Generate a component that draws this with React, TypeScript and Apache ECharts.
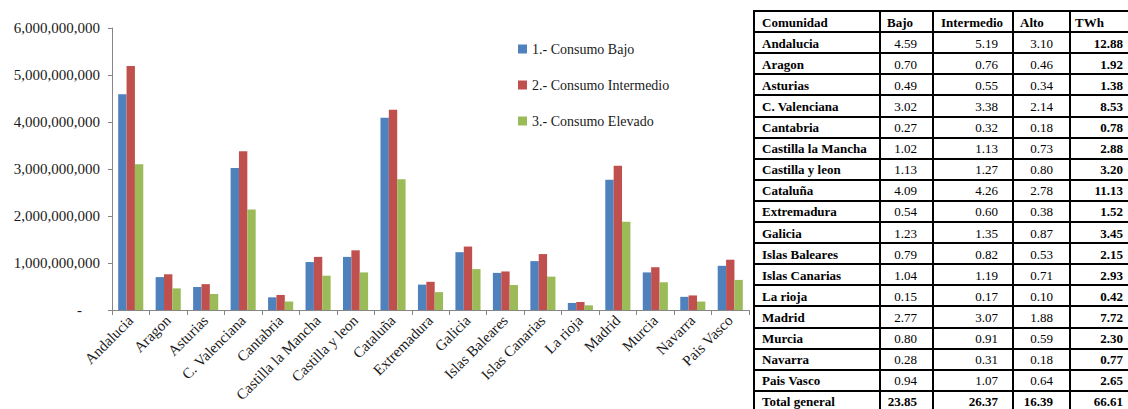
import React, { useEffect, useRef } from "react";
import * as echarts from "echarts";

const communities = [
  "Andalucia", "Aragon", "Asturias", "C. Valenciana", "Cantabria",
  "Castilla la Mancha", "Castilla y leon", "Cataluña", "Extremadura", "Galicia",
  "Islas Baleares", "Islas Canarias", "La rioja", "Madrid", "Murcia", "Navarra", "Pais Vasco",
];
// TWh values (x 1e9 kWh in chart)
const bajo = [4.59, 0.70, 0.49, 3.02, 0.27, 1.02, 1.13, 4.09, 0.54, 1.23, 0.79, 1.04, 0.15, 2.77, 0.80, 0.28, 0.94];
const intermedio = [5.19, 0.76, 0.55, 3.38, 0.32, 1.13, 1.27, 4.26, 0.60, 1.35, 0.82, 1.19, 0.17, 3.07, 0.91, 0.31, 1.07];
const alto = [3.10, 0.46, 0.34, 2.14, 0.18, 0.73, 0.80, 2.78, 0.38, 0.87, 0.53, 0.71, 0.10, 1.88, 0.59, 0.18, 0.64];
const twh = [12.88, 1.92, 1.38, 8.53, 0.78, 2.88, 3.20, 11.13, 1.52, 3.45, 2.15, 2.93, 0.42, 7.72, 2.30, 0.77, 2.65];
const totalLabel = "Total general";
const totals = [23.85, 26.37, 16.39, 66.61];
const seriesNames = ["1.- Consumo Bajo", "2.- Consumo Intermedio", "3.- Consumo Elevado"];
const tableHeaders = ["Comunidad", "Bajo", "Intermedio", "Alto", "TWh"];
const yTicks = { min: 0, max: 6000000000, interval: 1000000000 };

const FONT = '"Liberation Serif", "Times New Roman", serif';
const COLORS = ["#4F81BD", "#C0504D", "#9BBB59"];

function buildTable(): any[] {
  const els: any[] = [];
  const colX = [754, 880, 933, 1013, 1070, 1132];
  const top = 11;
  const rowH = 21.1;
  const nRows = communities.length + 2;
  const bottom = top + nRows * rowH;
  for (let i = 0; i <= nRows; i++) {
    const y = Math.round(top + i * rowH);
    els.push({
      type: "line",
      shape: { x1: colX[0] - 1, y1: y, x2: colX[5], y2: y },
      style: { stroke: "#000", lineWidth: 2 },
    });
  }
  colX.forEach((x) => {
    els.push({
      type: "line",
      shape: { x1: x, y1: top - 1, x2: x, y2: bottom },
      style: { stroke: "#000", lineWidth: 2 },
    });
  });
  const textEl = (text: string, x: number, y: number, align: string, bold: boolean) => ({
    type: "text",
    x,
    y,
    style: {
      text,
      fontSize: 13,
      fontFamily: FONT,
      fontWeight: bold ? "bold" : "normal",
      fill: "#000",
      align,
      textAlign: align,
      verticalAlign: "middle",
      textVerticalAlign: "middle",
    },
  });
  const headerX = [762, 887, 941, 1020, 1075];
  const valueRight = [917, 998, 1053, 1123];
  const rowCenter = (i: number) => top + i * rowH + rowH / 2 + 0.5;
  tableHeaders.forEach((h, j) => els.push(textEl(h, headerX[j], rowCenter(0), "left", true)));
  communities.forEach((c, i) => {
    const y = rowCenter(i + 1);
    els.push(textEl(c, headerX[0], y, "left", true));
    [bajo[i], intermedio[i], alto[i]].forEach((v, j) =>
      els.push(textEl(v.toFixed(2), valueRight[j], y, "right", false))
    );
    els.push(textEl(twh[i].toFixed(2), valueRight[3], y, "right", true));
  });
  const ty = rowCenter(communities.length + 1);
  els.push(textEl(totalLabel, headerX[0], ty, "left", true));
  totals.forEach((v, j) => els.push(textEl(v.toFixed(2), valueRight[j], ty, "right", true)));
  return els;
}

export default function App() {
  const ref = useRef<HTMLDivElement>(null);
  useEffect(() => {
    if (!ref.current) return;
    const chart = echarts.init(ref.current, undefined, { renderer: "svg" });
    const toVal = (arr: number[]) => arr.map((v) => Math.round(v * 1e9));
    chart.setOption({
      animation: false,
      backgroundColor: "#fff",
      textStyle: { fontFamily: FONT },
      legend: {
        orient: "vertical",
        left: 513,
        top: 37,
        itemWidth: 9,
        itemHeight: 9,
        itemGap: 22,
        icon: "rect",
        textStyle: { fontFamily: FONT, fontSize: 14, color: "#1a1a1a" },
        data: seriesNames,
      },
      grid: { left: 112, top: 28, width: 637, height: 282, containLabel: false },
      xAxis: {
        type: "category",
        data: communities,
        boundaryGap: true,
        axisLine: { lineStyle: { color: "#868686", width: 1 } },
        axisTick: { show: true, length: 5, lineStyle: { color: "#868686" } },
        axisLabel: {
          rotate: 45,
          interval: 0,
          fontFamily: FONT,
          fontSize: 15,
          color: "#1a1a1a",
          margin: 8,
        },
      },
      yAxis: {
        type: "value",
        min: yTicks.min,
        max: yTicks.max,
        interval: yTicks.interval,
        splitLine: { show: false },
        axisLine: { show: true, lineStyle: { color: "#868686", width: 1 } },
        axisTick: { show: true, length: 4, lineStyle: { color: "#868686" } },
        axisLabel: {
          fontFamily: FONT,
          fontSize: 15,
          color: "#1a1a1a",
          margin: 12,
          formatter: (v: number) => (v === 0 ? "{z|-}" : v.toLocaleString("en-US")),
          rich: { z: { fontFamily: FONT, fontSize: 15, color: "#1a1a1a", padding: [0, 18, 0, 0] } },
        },
      },
      series: [bajo, intermedio, alto].map((arr, i) => ({
        name: seriesNames[i],
        type: "bar",
        data: toVal(arr),
        barGap: "0%",
        barCategoryGap: "33%",
        itemStyle: { color: COLORS[i] },
      })),
      graphic: buildTable(),
    });
    return () => chart.dispose();
  }, []);
  return (
    <div
      ref={ref}
      style={{ position: "absolute", left: 0, top: 0, width: 1128, height: 409 }}
    />
  );
}
